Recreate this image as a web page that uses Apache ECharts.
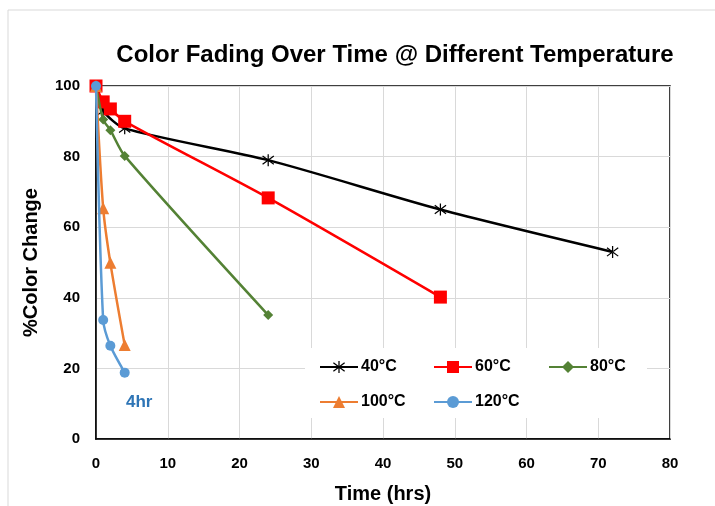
<!DOCTYPE html>
<html>
<head>
<meta charset="utf-8">
<script src="https://cdn.jsdelivr.net/npm/echarts@6/dist/echarts.min.js"></script>
<style>
  html, body { margin: 0; padding: 0; background: #fff; }
  #chart { width: 715px; height: 506px; }
</style>
</head>
<body>
<div id="chart"></div>
<script>
    // data
    var names = ["40°C", "60°C", "80°C", "100°C", "120°C"];
    var t40 = [0, 1, 4, 24, 48, 72];
    var v40 = [100, 93, 88, 79, 65, 53];
    var t60 = [0, 1, 2, 4, 24, 48];
    var v60 = [100, 95.5, 93.5, 90, 68.3, 40.2];
    var t80 = [0, 1, 2, 4, 24];
    var v80 = [100, 90.5, 87.5, 80.2, 35.1];
    var t100 = [0, 1, 2, 4];
    var v100 = [100, 65.4, 49.9, 26.6];
    var t120 = [0, 1, 2, 4];
    var v120 = [100, 33.7, 26.4, 18.8];

    var colors = ["#000000", "#ff0000", "#548235", "#ed7d31", "#5b9bd5"];
    var star = "path://M-1,-10L1,-10L1,10L-1,10Z M-8.4,-7.8L9.6,6.2L8.4,7.8L-9.6,-6.2Z M8.4,-7.8L-9.6,6.2L-8.4,7.8L9.6,-6.2Z";
    var symbols = [star, "rect", "diamond", "triangle", "circle"];
    var sizes = [12, 13, 10, 12, 10];

    function pairs(t, v) {
        var out = [];
        for (var i = 0; i < t.length; i++) {
            out.push([t[i], v[i]]);
        }
        return out;
    }
    var allData = [pairs(t40, v40), pairs(t60, v60), pairs(t80, v80), pairs(t100, v100), pairs(t120, v120)];

    var series = [];
    for (var k = 0; k < names.length; k++) {
        series.push({
            name: names[k],
            type: "line",
            data: allData[k],
            smooth: 0.25,
            symbol: symbols[k],
            symbolSize: sizes[k],
            lineStyle: {color: colors[k], width: 2.5},
            itemStyle: {color: colors[k]},
            z: 2 + k
        });
    }

    var font = "'Liberation Sans', Arial, sans-serif";

    // one legend per item so the columns line up like the original
    var legendLeft = [319, 433, 548, 319, 433];
    var legendTop = [359, 359, 359, 394, 394];
    var legends = [];
    for (var j = 0; j < names.length; j++) {
        legends.push({
            data: [names[j]],
            left: legendLeft[j],
            top: legendTop[j],
            padding: 0,
            itemWidth: 38,
            itemHeight: 15,
            itemGap: 0,
            z: 5,
            textStyle: {fontFamily: font, fontWeight: "bold", fontSize: 16, color: "#000", padding: [0, 0, 0, -2]}
        });
    }

    var chart = echarts.init(document.getElementById("chart"));
    var option = {
        animation: false,
        color: colors,
        title: {
            text: "Color Fading Over Time @ Different Temperature",
            left: 390,
            textAlign: "center",
            top: 38,
            textStyle: {fontFamily: font, fontWeight: "bold", fontSize: 24, color: "#000"}
        },
        legend: legends,
        grid: {
            left: 96, right: 45, top: 86, bottom: 67,
            outerBoundsMode: "none",
            show: true, borderColor: "#000", borderWidth: 1.5
        },
        xAxis: {
            type: "value",
            min: 0, max: 80, interval: 10,
            name: "Time (hrs)",
            nameLocation: "middle",
            nameGap: 45,
            nameTextStyle: {fontFamily: font, fontWeight: "bold", fontSize: 20, color: "#000"},
            axisLine: {lineStyle: {color: "#000", width: 1.5}},
            axisTick: {show: false},
            axisLabel: {fontFamily: font, fontWeight: "bold", fontSize: 15, color: "#000", margin: 17},
            splitLine: {lineStyle: {color: "#d9d9d9", width: 1}}
        },
        yAxis: {
            type: "value",
            min: 0, max: 100, interval: 20,
            name: "%Color Change",
            nameLocation: "middle",
            nameGap: 55,
            nameTextStyle: {fontFamily: font, fontWeight: "bold", fontSize: 20, color: "#000"},
            axisLine: {show: true, lineStyle: {color: "#000", width: 1.5}},
            axisTick: {show: false},
            axisLabel: {fontFamily: font, fontWeight: "bold", fontSize: 15, color: "#000", margin: 16},
            splitLine: {lineStyle: {color: "#d9d9d9", width: 1}}
        },
        graphic: [{
            type: "rect",
            shape: {x: 8, y: 10, width: 720, height: 520},
            style: {fill: "none", stroke: "#d9d9d9", lineWidth: 1},
            silent: true
        }, {
            type: "rect",
            z: 3,
            shape: {x: 305, y: 348, width: 342, height: 70},
            style: {fill: "#fff"},
            silent: true
        }, {
            type: "text",
            left: 126,
            top: 394,
            style: {text: "4hr", fontFamily: font, fontWeight: "bold", fontSize: 17, fill: "#2e75b6"}
        }],
        series: series
    };
    chart.setOption(option);
</script>
</body>
</html>
